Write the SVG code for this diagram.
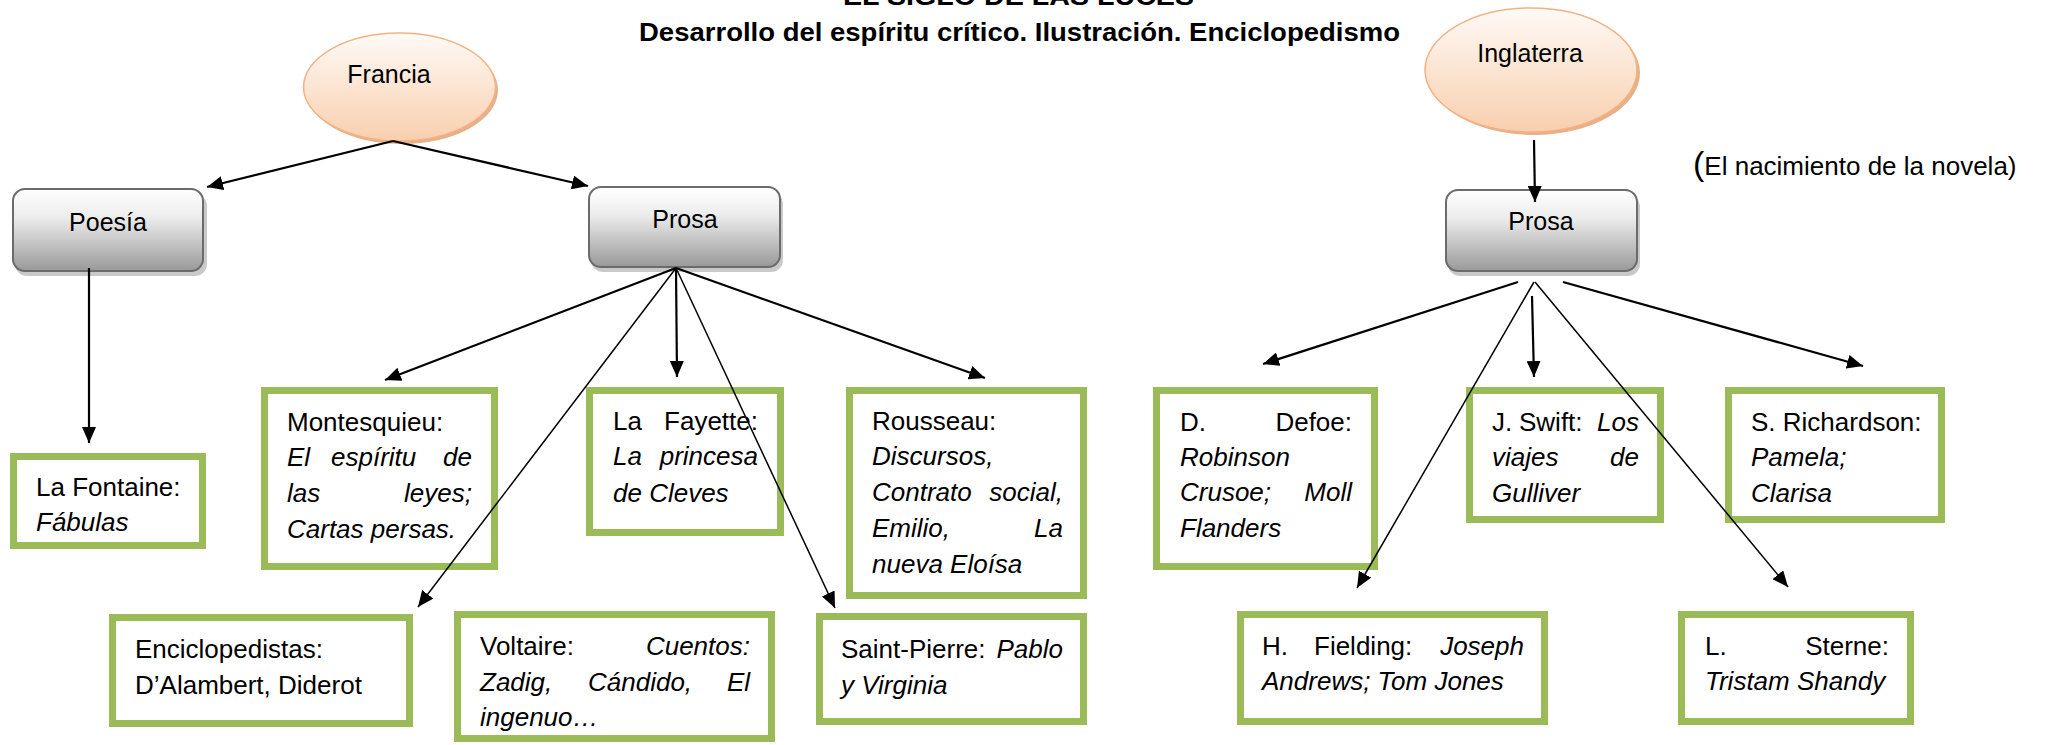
<svg xmlns="http://www.w3.org/2000/svg" width="2048" height="745" viewBox="0 0 2048 745">
<defs>
<linearGradient id="gOr" x1="0" y1="0" x2="0" y2="1">
<stop offset="0" stop-color="#fffaf6"/><stop offset="1" stop-color="#f8cfae"/>
</linearGradient>
<linearGradient id="gGr" x1="0" y1="0" x2="0" y2="1">
<stop offset="0" stop-color="#ffffff"/><stop offset="0.35" stop-color="#ececec"/><stop offset="1" stop-color="#999999"/>
</linearGradient>
<marker id="arr" markerUnits="userSpaceOnUse" viewBox="0 0 16 14" refX="16" refY="7" markerWidth="16" markerHeight="14" orient="auto">
<path d="M0,0 L16,7 L0,14 z" fill="#000"/>
</marker>
</defs>
<style>
text{font-family:"Liberation Sans",Arial,sans-serif;font-size:26px;fill:#000}
.i{font-style:italic}
.lbl{font-size:25px;text-anchor:middle}
.e{text-anchor:end}
.ttl{font-weight:bold;font-size:26px}
.ell{fill:url(#gOr);stroke:#f4b183;stroke-width:1.5}
.esh{fill:#e6b08a}
.gbox{fill:url(#gGr);stroke:#6b6b6b;stroke-width:2}
.gsh{fill:#c9c9c9}
.box{fill:#fff;stroke:#9bbb59;stroke-width:7}
.c{stroke:#000;stroke-width:2.2;fill:none;marker-end:url(#arr)}
.thin{stroke-width:1.5}
</style>
<rect width="2048" height="745" fill="#fff"/>

<g id="title">
<text class="ttl" x="843" y="5" textLength="351" lengthAdjust="spacingAndGlyphs">EL SIGLO DE LAS LUCES</text>
<text class="ttl" x="639" y="41" textLength="761" lengthAdjust="spacingAndGlyphs">Desarrollo del espíritu crítico. Ilustración. Enciclopedismo</text>
</g>

<g id="francia">
<ellipse class="esh" cx="402" cy="90" rx="96" ry="54"/>
<ellipse class="ell" cx="399.5" cy="87" rx="96" ry="54"/>
<text class="lbl" x="389" y="83">Francia</text>
</g>

<g id="inglaterra">
<ellipse class="esh" cx="1534" cy="73" rx="106" ry="62"/>
<ellipse class="ell" cx="1531" cy="70" rx="106" ry="62"/>
<text class="lbl" x="1530" y="62">Inglaterra</text>
</g>

<g id="nota">
<text x="1693" y="175"><tspan font-size="34">(</tspan>El nacimiento de la novela)</text>
</g>

<g id="poesia">
<rect class="gsh" x="15" y="194" width="192" height="82" rx="12"/>
<rect class="gbox" x="13" y="189" width="190" height="82" rx="12"/>
<text class="lbl" x="108" y="231">Poesía</text>
</g>

<g id="prosa-fr">
<rect class="gsh" x="591" y="192" width="192" height="80" rx="12"/>
<rect class="gbox" x="589" y="187" width="191" height="80" rx="12"/>
<text class="lbl" x="685" y="228">Prosa</text>
</g>

<g id="prosa-en">
<rect class="gsh" x="1448" y="195" width="192" height="81" rx="12"/>
<rect class="gbox" x="1446" y="190" width="191" height="81" rx="12"/>
<text class="lbl" x="1541" y="230">Prosa</text>
</g>

<g id="lafontaine">
<rect class="box" x="13.5" y="456.5" width="189" height="89"/>
<text x="36" y="496">La Fontaine:</text>
<text class="i" x="36" y="531">Fábulas</text>
</g>

<g id="montesquieu">
<rect class="box" x="264.5" y="390.5" width="230" height="176"/>
<text x="287" y="431">Montesquieu:</text>
<text class="i" x="287" y="466">El</text>
<text class="i" x="331" y="466">espíritu</text>
<text class="i e" x="472" y="466">de</text>
<text class="i" x="287" y="502">las</text>
<text class="i e" x="472" y="502">leyes;</text>
<text class="i" x="287" y="538">Cartas persas.</text>
</g>

<g id="lafayette">
<rect class="box" x="589.5" y="390.5" width="191" height="142"/>
<text x="613" y="430">La</text>
<text class="e" x="758" y="430">Fayette:</text>
<text class="i" x="613" y="465">La</text>
<text class="i e" x="758" y="465">princesa</text>
<text class="i" x="613" y="502">de Cleves</text>
</g>

<g id="rousseau">
<rect class="box" x="849.5" y="390.5" width="234" height="205"/>
<text x="872" y="430">Rousseau:</text>
<text class="i" x="872" y="465">Discursos,</text>
<text class="i" x="872" y="501">Contrato</text>
<text class="i e" x="1063" y="501">social,</text>
<text class="i" x="872" y="537">Emilio,</text>
<text class="i e" x="1063" y="537">La</text>
<text class="i" x="872" y="573">nueva Eloísa</text>
</g>

<g id="enciclopedistas">
<rect class="box" x="112.5" y="617.5" width="297" height="106"/>
<text x="135" y="658">Enciclopedistas:</text>
<text x="135" y="694">D’Alambert, Diderot</text>
</g>

<g id="voltaire">
<rect class="box" x="457.5" y="614.5" width="314" height="124"/>
<text x="480" y="655">Voltaire:</text>
<text class="i e" x="750" y="655">Cuentos:</text>
<text class="i" x="480" y="691">Zadig,</text>
<text class="i" x="588" y="691">Cándido,</text>
<text class="i e" x="750" y="691">El</text>
<text class="i" x="480" y="726">ingenuo…</text>
</g>

<g id="saintpierre">
<rect class="box" x="819.5" y="616.5" width="264" height="105"/>
<text x="841" y="658">Saint-Pierre:</text>
<text class="i e" x="1063" y="658">Pablo</text>
<text class="i" x="841" y="694">y Virginia</text>
</g>

<g id="defoe">
<rect class="box" x="1156.5" y="390.5" width="218" height="176"/>
<text x="1180" y="431">D.</text>
<text class="e" x="1352" y="431">Defoe:</text>
<text class="i" x="1180" y="466">Robinson</text>
<text class="i" x="1180" y="501">Crusoe;</text>
<text class="i e" x="1352" y="501">Moll</text>
<text class="i" x="1180" y="537">Flanders</text>
</g>

<g id="swift">
<rect class="box" x="1469.5" y="390.5" width="191" height="129"/>
<text x="1492" y="431">J.</text>
<text x="1519" y="431">Swift:</text>
<text class="i e" x="1639" y="431">Los</text>
<text class="i" x="1492" y="466">viajes</text>
<text class="i e" x="1639" y="466">de</text>
<text class="i" x="1492" y="502">Gulliver</text>
</g>

<g id="richardson">
<rect class="box" x="1728.5" y="390.5" width="213" height="129"/>
<text x="1751" y="431">S. Richardson:</text>
<text class="i" x="1751" y="466">Pamela;</text>
<text class="i" x="1751" y="502">Clarisa</text>
</g>

<g id="fielding">
<rect class="box" x="1240.5" y="614.5" width="304" height="107"/>
<text x="1262" y="655">H.</text>
<text x="1314" y="655">Fielding:</text>
<text class="i e" x="1524" y="655">Joseph</text>
<text class="i" x="1262" y="690">Andrews; Tom Jones</text>
</g>

<g id="sterne">
<rect class="box" x="1681.5" y="614.5" width="229" height="107"/>
<text x="1705" y="655">L.</text>
<text class="e" x="1889" y="655">Sterne:</text>
<text class="i" x="1705" y="690">Tristam Shandy</text>
</g>

<g id="connectors">
<line class="c" x1="393" y1="141" x2="207" y2="187"/>
<line class="c" x1="393" y1="141" x2="588" y2="186"/>
<line class="c" x1="89" y1="268" x2="89" y2="443"/>
<line class="c" x1="676" y1="268" x2="385" y2="380"/>
<line class="c" x1="676" y1="268" x2="677" y2="377"/>
<line class="c" x1="676" y1="268" x2="985" y2="378"/>
<line class="c thin" x1="676" y1="268" x2="418" y2="607"/>
<line class="c thin" x1="676" y1="268" x2="835" y2="608"/>
<line class="c" x1="1534" y1="140" x2="1535" y2="202"/>
<line class="c" x1="1518" y1="282" x2="1263" y2="364"/>
<line class="c" x1="1532" y1="296" x2="1534" y2="377"/>
<line class="c" x1="1563" y1="282" x2="1863" y2="366"/>
<line class="c thin" x1="1534" y1="282" x2="1357" y2="588"/>
<line class="c thin" x1="1535" y1="282" x2="1788" y2="587"/>
</g>
</svg>
